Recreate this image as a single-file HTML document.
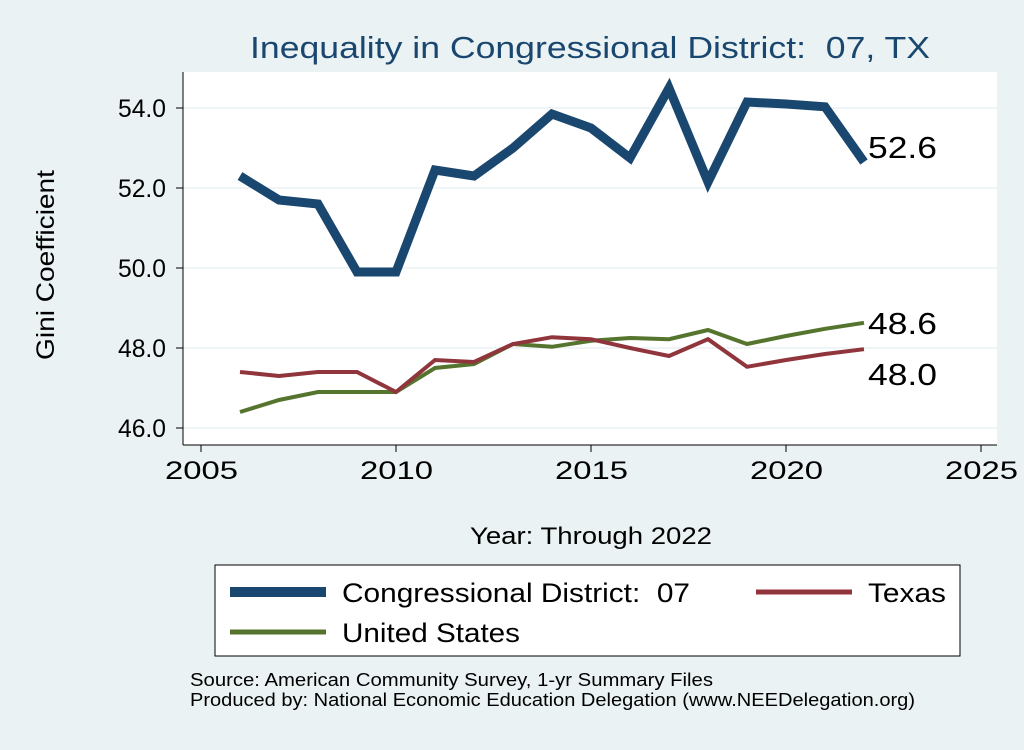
<!DOCTYPE html>
<html><head><meta charset="utf-8"><style>
body{margin:0;background:#eaf2f3;font-family:"Liberation Sans",Arial,sans-serif}
svg text{font-family:"Liberation Sans",Arial,sans-serif;white-space:pre}
</style></head><body>
<svg id="c" width="1024" height="745" xmlns="http://www.w3.org/2000/svg">
<rect width="1024" height="745" fill="#eaf2f3"/>
<text x="250" y="58" font-size="31" fill="#1a476f" textLength="680" lengthAdjust="spacingAndGlyphs">Inequality in Congressional District:  07, TX</text>
<rect x="183" y="72" width="814" height="373" fill="#fff"/>
<g id="grid"></g><g id="axes"></g><g id="series"></g>
<text transform="translate(54,265) rotate(-90)" text-anchor="middle" font-size="25" fill="#000" textLength="190" lengthAdjust="spacingAndGlyphs">Gini Coefficient</text>
<text x="470" y="544" font-size="24" fill="#000" textLength="242" lengthAdjust="spacingAndGlyphs">Year: Through 2022</text>
<g>
<rect x="215" y="565" width="745" height="91" fill="#fff" stroke="#000" stroke-width="1"/>
<line x1="230" y1="592" x2="326" y2="592" stroke="#1a476f" stroke-width="10"/>
<text x="342" y="602" font-size="27" textLength="348" lengthAdjust="spacingAndGlyphs">Congressional District:  07</text>
<line x1="756" y1="592" x2="852" y2="592" stroke="#90353b" stroke-width="5"/>
<text x="868" y="602" font-size="27" textLength="78" lengthAdjust="spacingAndGlyphs">Texas</text>
<line x1="230" y1="632" x2="326" y2="632" stroke="#55752f" stroke-width="5"/>
<text x="342" y="642" font-size="27" textLength="178" lengthAdjust="spacingAndGlyphs">United States</text>
</g>
<text x="190" y="686" font-size="18" textLength="523" lengthAdjust="spacingAndGlyphs">Source: American Community Survey, 1-yr Summary Files</text>
<text x="190" y="706" font-size="18" textLength="725" lengthAdjust="spacingAndGlyphs">Produced by: National Economic Education Delegation (www.NEEDelegation.org)</text>
</svg>
<script>
const years=[2006,2007,2008,2009,2010,2011,2012,2013,2014,2015,2016,2017,2018,2019,2020,2021,2022];
const district=[52.3,51.7,51.6,49.9,49.9,52.45,52.3,53.0,53.85,53.5,52.75,54.5,52.15,54.15,54.1,54.03,52.65];
const texas=[47.4,47.3,47.4,47.4,46.9,47.7,47.65,48.1,48.27,48.22,48.0,47.8,48.22,47.53,47.7,47.85,47.97];
const us=[46.4,46.7,46.9,46.9,46.9,47.5,47.6,48.1,48.03,48.18,48.25,48.22,48.45,48.1,48.3,48.48,48.63];
const yTicks=[46,48,50,52,54];
const xTicks=[2005,2010,2015,2020,2025];
const NS="http://www.w3.org/2000/svg";
const X=v=>201+(v-2005)*39;
const Y=v=>428-(v-46)*40;
function mk(t,a,p){const e=document.createElementNS(NS,t);for(const k in a)e.setAttribute(k,a[k]);document.getElementById(p).appendChild(e);return e;}
let l=mk('line',{x1:183,y1:72,x2:183,y2:445,stroke:'#000'},'axes');


l=mk('line',{x1:183,y1:445,x2:997,y2:445,stroke:'#000'},'axes');


yTicks.forEach(v=>{
 const g=mk('line',{x1:183,y1:Y(v),x2:997,y2:Y(v),stroke:'#eaf2f3','stroke-width':1.5},'grid');
 
 
 mk('line',{x1:176,y1:Y(v),x2:183,y2:Y(v),stroke:'#000'},'axes');
 const t=mk('text',{x:166,y:Y(v)+9,'text-anchor':'end','font-size':25,textLength:48,lengthAdjust:'spacingAndGlyphs'},'axes');
 t.textContent=v.toFixed(1);
 
 
});
xTicks.forEach(v=>{
 mk('line',{x1:X(v),y1:445,x2:X(v),y2:452,stroke:'#000'},'axes');
 const t=mk('text',{x:X(v)-36,y:479,'font-size':25,textLength:73,lengthAdjust:'spacingAndGlyphs'},'axes');
 t.textContent=v;
 
 
});
function line(vals,col,w,name){
 const d=vals.map((v,i)=>(i?'L':'M')+X(years[i])+','+Y(v)).join(' ');
 const p=mk('path',{d:d,fill:'none',stroke:col,'stroke-width':w,'stroke-linejoin':'miter'},'series');
 
 
}
line(us,'#55752f',4,'line-united-states');
line(texas,'#90353b',4,'line-texas');
line(district,'#1a476f',9,'line-district');
function lab(v,dy,name){
 const t=mk('text',{x:X(2022)+4,y:Y(v)+dy,'font-size':31,textLength:69,lengthAdjust:'spacingAndGlyphs'},'series');
 t.textContent=v.toFixed(1);
 
 
}
lab(district[16],-4,'label-district-last');
lab(us[16],11,'label-us-last');
lab(texas[16],36,'label-texas-last');
</script>
</body></html>
